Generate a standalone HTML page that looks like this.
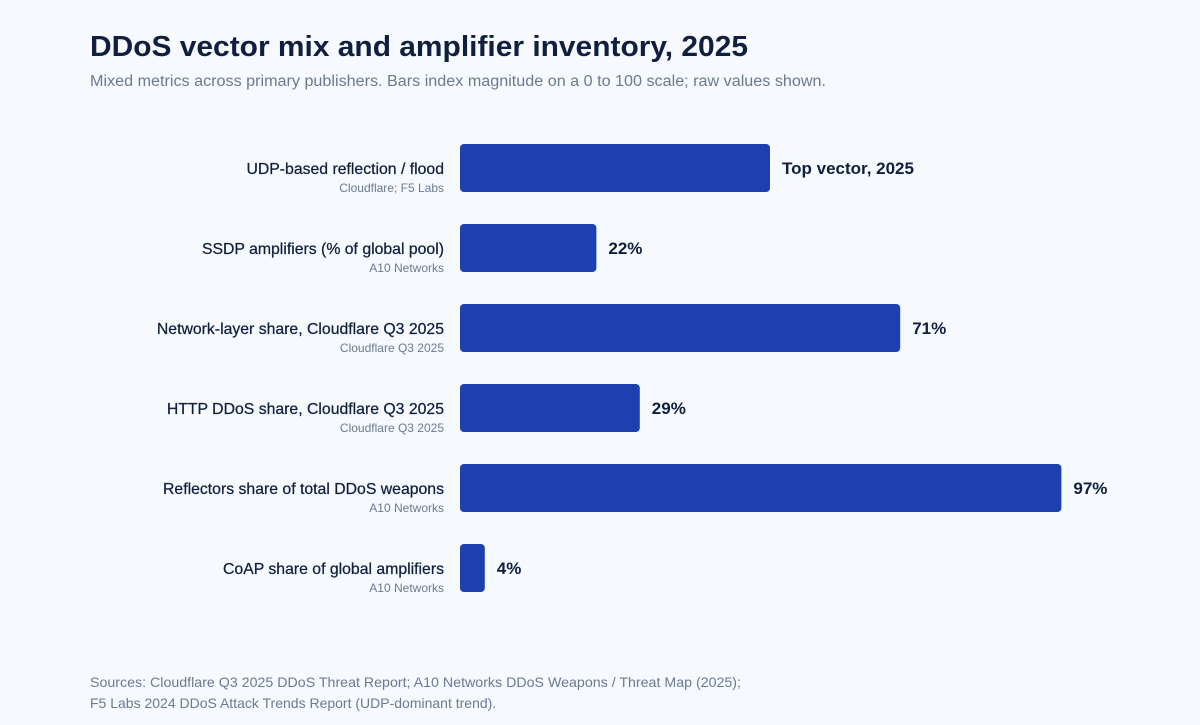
<!DOCTYPE html>
<html><head><meta charset="utf-8"><style>
body{margin:0;width:1200px;height:720px;background:#f6f9fe;font-family:"Liberation Sans",sans-serif;overflow:hidden}
</style></head><body>
<svg width="1200" height="720">
<text x="90" y="56" font-size="29" font-weight="bold" fill="#0f1f3d" textLength="658" lengthAdjust="spacingAndGlyphs">DDoS vector mix and amplifier inventory, 2025</text>
<text x="90" y="86" font-size="15.5" fill="#6b7a90" textLength="736" lengthAdjust="spacingAndGlyphs">Mixed metrics across primary publishers. Bars index magnitude on a 0 to 100 scale; raw values shown.</text>
<g id="bars"></g>
<text x="90" y="687" font-size="14" fill="#6b7a90" textLength="651" lengthAdjust="spacingAndGlyphs">Sources: Cloudflare Q3 2025 DDoS Threat Report; A10 Networks DDoS Weapons / Threat Map (2025);</text>
<text x="90" y="708" font-size="14" fill="#6b7a90">F5 Labs 2024 DDoS Attack Trends Report (UDP-dominant trend).</text>
</svg>
<script>
const categories=["UDP-based reflection / flood","SSDP amplifiers (% of global pool)","Network-layer share, Cloudflare Q3 2025","HTTP DDoS share, Cloudflare Q3 2025","Reflectors share of total DDoS weapons","CoAP share of global amplifiers"];
const sources=["Cloudflare; F5 Labs","A10 Networks","Cloudflare Q3 2025","Cloudflare Q3 2025","A10 Networks","A10 Networks"];
const values=[50,22,71,29,97,4];
const valueLabels=["Top vector, 2025","22%","71%","29%","97%","4%"];
const ns="http://www.w3.org/2000/svg";
const g=document.getElementById('bars');
const x=v=>v*6.2;
const y=i=>144+i*80;
function mk(t,a,txt){const e=document.createElementNS(ns,t);for(const k in a)e.setAttribute(k,a[k]);if(txt)e.textContent=txt;g.appendChild(e);return e;}
categories.forEach((c,i)=>{
 const r=mk('rect',{x:460,y:y(i),width:x(values[i]),height:48,rx:4,fill:'#1e40af'});
 
 
 const l=mk('text',{x:444,y:y(i)+30,'font-size':15.8,fill:'#0f1f3d','text-anchor':'end',stroke:'#0f1f3d','stroke-width':0.25},c);
 
 
 const s=mk('text',{x:444,y:y(i)+48,'font-size':12,fill:'#6b7a90','text-anchor':'end'},sources[i]);
 
 
 const v=mk('text',{x:460+x(values[i])+12,y:y(i)+30,'font-size':17,'font-weight':'bold',fill:'#0f1f3d'},valueLabels[i]);
 
 
});
</script>
</body></html>
